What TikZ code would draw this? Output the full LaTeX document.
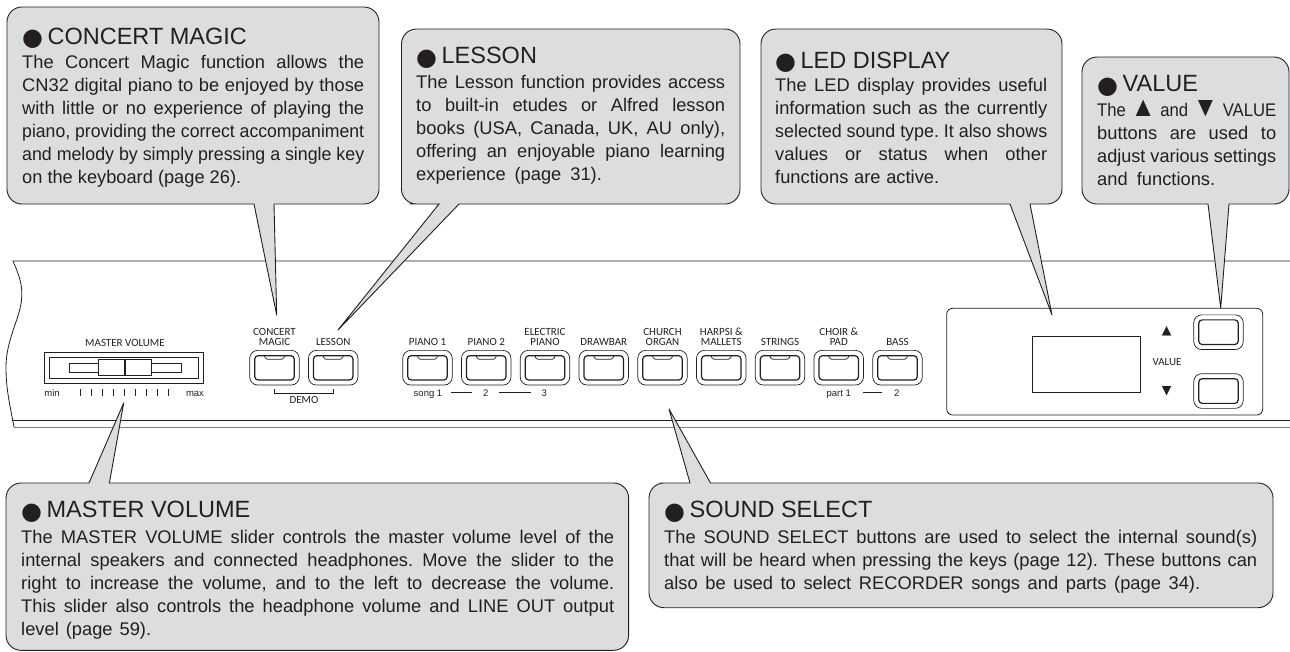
\documentclass[tikz,border=0pt]{standalone}
\usepackage{fontspec}
\usepackage{graphicx}
\setmainfont{Liberation Sans}
\newfontfamily\panelfont{Carlito}
\newfontfamily\symfont{DejaVu Sans}
\usetikzlibrary{positioning}
\definecolor{CalloutGray}{HTML}{DCDDDE}
\definecolor{InkBlack}{HTML}{231F20}
\definecolor{PanelGray}{HTML}{808080}
% one line of a callout, set to a given width
\newcommand{\FullLine}[2][\hsize]{\rule{0pt}{15pt}\spaceskip=0pt\xspaceskip=0pt\frenchspacing
  \setbox0=\hbox{#2}\ifdim\wd0>#1\resizebox{#1}{\height}{#2}\else\makebox[#1][s]{#2}\fi\par}
\newcommand{\Dot}{\raisebox{-1.5pt}{\symfont\fontsize{24}{24}\selectfont ●}\hspace{4.5pt}}
\newcommand{\UpTri}{{\symfont\fontsize{12.5}{12.5}\selectfont ▲}}
\newcommand{\DownTri}{{\symfont\fontsize{12.5}{12.5}\selectfont ▼}}
\newcommand{\TextUp}{\smash{\fontsize{28}{28}\selectfont ▲}}
\newcommand{\TextDown}{\smash{\fontsize{28}{28}\selectfont ▼}}

\begin{document}
\begin{tikzpicture}[x=1pt, y=-1pt, node distance = 0pt, text=InkBlack,
CalloutStyle/.style={draw=InkBlack, fill=CalloutGray, line width=0.9pt, line join=round},
TitleStyle/.style={anchor=base west, inner sep=0pt, font=\fontsize{23.5}{26}\selectfont},
BodyStyle/.style={anchor=north west, inner sep=0pt, align=left, font=\fontsize{18.3}{23}\selectfont},
ButtonStyle/.style={draw=InkBlack, line width=0.7pt, rounded corners=8pt, minimum width=49.5pt,
                minimum height=34.7pt, outer sep=0pt, inner sep=0pt},
FaceStyle/.style={draw=InkBlack, line width=1.2pt, rounded corners=3.5pt},
CapStyle/.style={inner sep=0pt, align=center, text depth=0pt,
                font=\panelfont\fontsize{11}{10.5}\selectfont},
SmallStyle/.style={anchor=base, inner sep=0pt, text height=8pt, text depth=0pt,
                font=\fontsize{9.5}{10}\selectfont},
PanelLine/.style={draw=InkBlack, line width=0.8pt},
]
\useasboundingbox (0,0) rectangle (1290,651);

% keyboard front
\draw[PanelLine] (1290,261) -- (13,261) .. controls (19,275) and (23,285) .. (21.5,300)
    .. controls (20,318) and (6,340) .. (6,367) .. controls (6,390) and (10,405) .. (14,427);
\draw[PanelLine, line width=1pt] (12,420) -- (1290,420);
\draw[draw=PanelGray, line width=1pt] (14,427) -- (1290,427);

% master volume slider
\node [CapStyle, anchor=base] (volCap) at (125,346) {MASTER VOLUME};
\draw[PanelLine] (44,352) rectangle (203.5,383.3);
\draw[PanelLine] (49.3,357.3) rectangle (198.3,378.3);
\draw[PanelLine] (69,363.3) rectangle (181,372.7);
\draw[PanelLine, fill=white] (98.3,359.3) rectangle (151.7,375.7);
\draw[draw=InkBlack, line width=1.3pt] (125,359.3) -- (125,375.7);
\foreach \i in {0,...,8}
    \draw[draw=InkBlack, line width=1.3pt] (80.7+11*\i,389) -- (80.7+11*\i,395.7);
\node [SmallStyle] (volMin) at (52,396) {min};
\node [SmallStyle] (volMax) at (195,396) {max};

% buttons
\foreach \name/\cx/\labeltext in {concert/274.5/{CONCERT\\MAGIC}, lesson/333.2/LESSON,
    pianoA/427.5/{PIANO 1}, pianoB/486.25/{PIANO 2}, electric/545/{ELECTRIC\\PIANO},
    drawbar/603.75/DRAWBAR, church/662.5/{CHURCH\\ORGAN}, harpsi/721.25/{HARPSI \&\\MALLETS},
    strings/780/STRINGS, choir/838.75/{CHOIR \&\\PAD}, bass/897.5/BASS}{
  \node [ButtonStyle] (\name) at (\cx,367.7) {};
  \node [CapStyle, above=4.3pt of \name] (\name Cap) {\labeltext};
  \draw[FaceStyle] ([xshift=5pt,yshift=-5.3pt]\name.north west) rectangle ([xshift=-5pt,yshift=5pt]\name.south east);
  \draw[PanelLine, line width=0.7pt, rounded corners=1.5pt] ([xshift=-10pt,yshift=-5.3pt]\name.north)
      -- ++(1,3.5) -- ++(18,0) -- ++(1,-3.5);
}

% demo bracket
\node [CapStyle, anchor=base] (demo) at (304,403) {DEMO};
\draw[PanelLine] ([yshift=-4pt]concert.south) -- ++(0,4.5) -| ([yshift=-4pt]lesson.south);

% song and part numbers
\node [SmallStyle] (songA) at (428,396.7) {song 1};
\node [SmallStyle] (songB) at (485.7,396.7) {2};
\node [SmallStyle] (songC) at (544.3,396.7) {3};
\node [SmallStyle] (partA) at (838.7,396.7) {part 1};
\node [SmallStyle] (partB) at (896.7,396.7) {2};
\draw[PanelLine] ([xshift=9pt]songA.east) -- ([xshift=-11pt]songB.west);
\draw[PanelLine] ([xshift=10pt]songB.east) -- ([xshift=-10pt]songC.west);
\draw[PanelLine] ([xshift=12pt]partA.east) -- ([xshift=-11.5pt]partB.west);

% display and value buttons
\draw[PanelLine, rounded corners=6pt] (946.7,308.3) rectangle (1262.7,415);
\draw[PanelLine] (1032.7,336.7) rectangle (1140.3,392.7);
\node [inner sep=0pt] (valUp) at (1166.7,331.7) {\UpTri};
\node [inner sep=0pt] (valDown) at (1166.7,391) {\DownTri};
\node [CapStyle, anchor=base] (valCap) at (1167,365) {VALUE};
\foreach \name/\cy in {valA/332.2, valB/391}{
  \node [ButtonStyle] (\name) at (1218.5,\cy) {};
  \draw[FaceStyle] ([xshift=5pt,yshift=-5pt]\name.north west) rectangle ([xshift=-5pt,yshift=5pt]\name.south east);
}

% callouts
\coordinate (concertTip) at (276.7,315);
\draw[CalloutStyle] (274,204) -- (300,204) [rounded corners=15pt] -- (379,204) -- (379,7) -- (7,7) -- (7,204)
    -- (230,204) [sharp corners] -- (254,204) -- (concertTip) -- cycle;
\node [TitleStyle] (concertTitle) at (22,44) {\Dot CONCERT MAGIC};
\node [BodyStyle, text width=342pt] (concertText) at (22,53.3) {%
\FullLine{The Concert Magic function allows the}
\FullLine{CN32 digital piano to be enjoyed by those}
\FullLine{with little or no experience of playing the}
\FullLine{piano, providing the correct accompaniment}
\FullLine{and melody by simply pressing a single key}
\FullLine[219pt]{on the keyboard (page 26).}};

\coordinate (lessonTip) at (338,330);
\draw[CalloutStyle] (459,204) -- (480,204) [rounded corners=15pt] -- (740,204) -- (740,29) -- (401.5,29) -- (401.5,204)
    -- (425,204) [sharp corners] -- (439,204) -- (lessonTip) -- cycle;
\node [TitleStyle] (lessonTitle) at (416,63.5) {\Dot LESSON};
\node [BodyStyle, text width=309pt] (lessonText) at (416,73) {%
\FullLine{The Lesson function provides access}
\FullLine{to built-in etudes or Alfred lesson}
\FullLine{books (USA, Canada, UK, AU only),}
\FullLine{offering an enjoyable piano learning}
\FullLine[185.7pt]{experience (page 31).}};

\coordinate (ledTip) at (1052,315);
\draw[CalloutStyle] (1030,204) -- (1040,204) [rounded corners=15pt] -- (1062,204) -- (1062,29) -- (761,29) -- (761,204)
    -- (990,204) [sharp corners] -- (1010,204) -- (ledTip) -- cycle;
\node [TitleStyle] (ledTitle) at (775,68) {\Dot LED DISPLAY};
\node [BodyStyle, text width=272pt] (ledText) at (775,76.7) {%
\FullLine{The LED display provides useful}
\FullLine{information such as the currently}
\FullLine{selected sound type. It also shows}
\FullLine{values or status when other}
\FullLine[164pt]{functions are active.}};

\coordinate (valueTip) at (1220.7,308);
\draw[CalloutStyle] (1229,204) -- (1240,204) [rounded corners=15pt] -- (1289,204) -- (1289,57) -- (1082,57) -- (1082,204)
    -- (1190,204) [sharp corners] -- (1208,204) -- (valueTip) -- cycle;
\node [TitleStyle] (valueTitle) at (1097,91.7) {\Dot VALUE};
\node [BodyStyle, text width=179pt] (valueText) at (1097,101) {%
\FullLine{The \TextUp\ and \TextDown\ VALUE}
\FullLine{buttons are used to}
\FullLine{adjust various settings}
\FullLine[118pt]{and functions.}};

\coordinate (volTip) at (123.7,403);
\draw[CalloutStyle] (109.4,483) -- (130,483) [rounded corners=15pt] -- (628.6,483) -- (628.6,650.3) -- (6,650.3) -- (6,483)
    -- (70,483) [sharp corners] -- (89,483) -- (volTip) -- cycle;
\node [TitleStyle] (volTitle) at (21,517.7) {\Dot MASTER VOLUME};
\node [BodyStyle, text width=593pt] (volText) at (21,528) {%
\FullLine{The MASTER VOLUME slider controls the master volume level of the}
\FullLine{internal speakers and connected headphones. Move the slider to the}
\FullLine{right to increase the volume, and to the left to decrease the volume.}
\FullLine{This slider also controls the headphone volume and LINE OUT output}
\FullLine[130pt]{level (page 59).}};

\coordinate (soundTip) at (669,409);
\draw[CalloutStyle] (710.5,483) -- (730,483) [rounded corners=15pt] -- (1273,483) -- (1273,607.7) -- (649,607.7) -- (649,483)
    -- (675,483) [sharp corners] -- (690,483) -- (soundTip) -- cycle;
\node [TitleStyle] (soundTitle) at (664,517.7) {\Dot SOUND SELECT};
\node [BodyStyle, text width=593pt] (soundText) at (664,528) {%
\FullLine{The SOUND SELECT buttons are used to select the internal sound(s)}
\FullLine{that will be heard when pressing the keys (page 12). These buttons can}
\FullLine[536pt]{also be used to select RECORDER songs and parts (page 34).}};
\end{tikzpicture}
\end{document}
